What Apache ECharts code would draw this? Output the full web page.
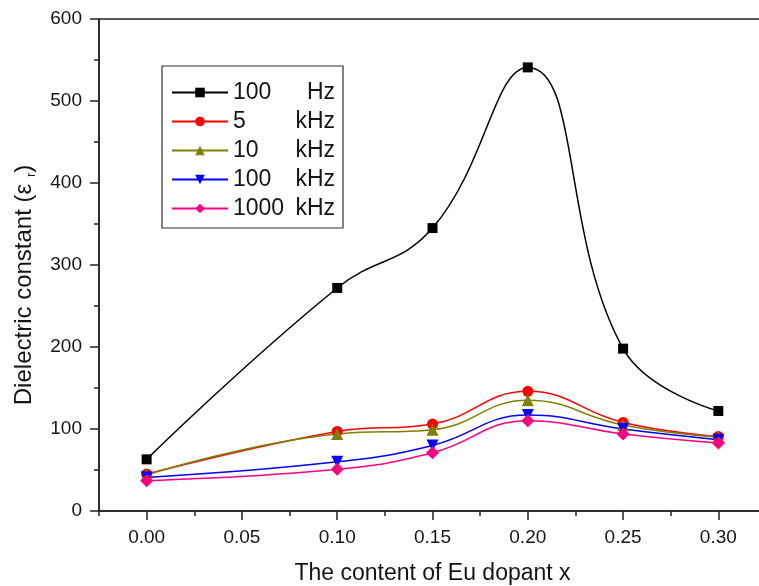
<!DOCTYPE html>
<html><head><meta charset="utf-8">
<script src="https://cdn.jsdelivr.net/npm/echarts@6/dist/echarts.min.js"></script>
<style>html,body{margin:0;padding:0;background:#fff}#c{width:759px;height:586px}</style>
</head><body><div id="c"></div>
<script>
// ---- data ----
const xValues = [0.00, 0.10, 0.15, 0.20, 0.25, 0.30];
const seriesNames = ['100 Hz', '5 kHz', '10 kHz', '100 kHz', '1000 kHz'];
const legendNumbers = ['100', '5', '10', '100', '1000'];
const legendUnits = ['Hz', 'kHz', 'kHz', 'kHz', 'kHz'];
const hz100 = [63, 272, 345, 541, 198, 122];
const khz5 = [45, 97, 106, 146, 108, 91];
const khz10 = [44, 94, 99, 135, 105, 90];
const khz100 = [41, 60, 80, 117, 100, 87];
const khz1000 = [37, 51, 71, 110, 94, 83];
const majorXTicks = [0.00, 0.05, 0.10, 0.15, 0.20, 0.25, 0.30];
const minorXTicks = [-0.025, 0.025, 0.075, 0.125, 0.175, 0.225, 0.275, 0.325];
const xAxisTitle = 'The content of Eu dopant x';

// ---- chart ----
const FONT = 'Arial, "Liberation Sans", sans-serif';
const TXT = '#151515';
const AX = '#222';
const chart = echarts.init(document.getElementById('c'), null, {renderer: 'canvas'});
function pairs(ys) { return xValues.map((x, i) => [x, ys[i]]); }
const defs = [
  {data: hz100, color: '#000000', symbol: 'rect', size: 10, rotate: 0},
  {data: khz5, color: '#ff0000', symbol: 'circle', size: 11, rotate: 0},
  {data: khz10, color: '#808000', symbol: 'triangle', size: 12, rotate: 0},
  {data: khz100, color: '#0000ff', symbol: 'triangle', size: 12, rotate: 180},
  {data: khz1000, color: '#ff0080', symbol: 'diamond', size: 13, rotate: 0}
];
const series = defs.map((d, i) => ({
  name: seriesNames[i], type: 'line', xAxisIndex: 0, yAxisIndex: 0,
  data: pairs(d.data), smooth: 0.45,
  symbol: d.symbol, symbolSize: d.size, symbolRotate: d.rotate,
  lineStyle: {color: d.color, width: 1.5},
  itemStyle: {color: d.color},
  emphasis: {disabled: true}
}));
const option = {
  animation: false,
  backgroundColor: '#ffffff',
  grid: {left: 99, right: -7, top: 19, bottom: 75, show: true, borderColor: AX, borderWidth: 1.5,
         backgroundColor: 'transparent', containLabel: false, outerBoundsMode: 'none'},
  legend: {
    left: 162, top: 66, orient: 'vertical', padding: [15, 8, 8, 9], itemGap: 6,
    itemWidth: 56, itemHeight: 12, borderColor: '#333', borderWidth: 1.2, backgroundColor: '#fff',
    selectedMode: false, data: seriesNames,
    formatter: function (name) {
      const i = seriesNames.indexOf(name);
      return '{a|' + legendNumbers[i] + '}{b|' + legendUnits[i] + '}';
    },
    textStyle: {
      rich: {
        a: {width: 60, fontSize: 23, lineHeight: 24, fontFamily: FONT, color: TXT},
        b: {width: 42, align: 'right', fontSize: 23, lineHeight: 24, fontFamily: FONT, color: TXT}
      }
    }
  },
  xAxis: [{
    type: 'value', min: -0.025, max: 0.325, position: 'bottom',
    name: xAxisTitle, nameLocation: 'middle', nameGap: 51,
    nameTextStyle: {fontSize: 23, fontFamily: FONT, color: TXT},
    axisLine: {show: true, onZero: false, lineStyle: {color: AX, width: 1.5}},
    axisTick: {show: true, inside: false, length: 9, customValues: majorXTicks, lineStyle: {color: AX, width: 1.5}},
    axisLabel: {show: true, customValues: majorXTicks, formatter: v => v.toFixed(2), margin: 17, fontSize: 19, fontFamily: FONT, color: TXT},
    splitLine: {show: false}
  }, {
    type: 'value', min: -0.025, max: 0.325, position: 'bottom',
    axisLine: {show: false, onZero: false},
    axisTick: {show: true, inside: false, length: 5, customValues: minorXTicks, lineStyle: {color: AX, width: 1.5}},
    axisLabel: {show: false}, splitLine: {show: false}
  }],
  yAxis: {
    type: 'value', min: 0, max: 600, interval: 100,
    name: '{n|Dielectric constant (ε }{s|r}{n|)}', nameLocation: 'middle', nameGap: 61,
    nameTextStyle: {
      padding: [0, 40, 0, 0],
      rich: {
        n: {fontSize: 24, lineHeight: 28, fontFamily: FONT, color: TXT},
        s: {fontSize: 13, lineHeight: 14, verticalAlign: 'bottom', fontFamily: FONT, color: TXT}
      }
    },
    axisLine: {show: true, onZero: false, lineStyle: {color: AX, width: 1.5}},
    axisTick: {show: true, inside: false, length: 9, lineStyle: {color: AX, width: 1.5}},
    minorTick: {show: true, splitNumber: 2, length: 5, lineStyle: {color: AX, width: 1.5}},
    axisLabel: {margin: 17, fontSize: 19, fontFamily: FONT, color: TXT},
    splitLine: {show: false}, minorSplitLine: {show: false}
  },
  series: series
};
chart.setOption(option);
</script>
</body></html>
